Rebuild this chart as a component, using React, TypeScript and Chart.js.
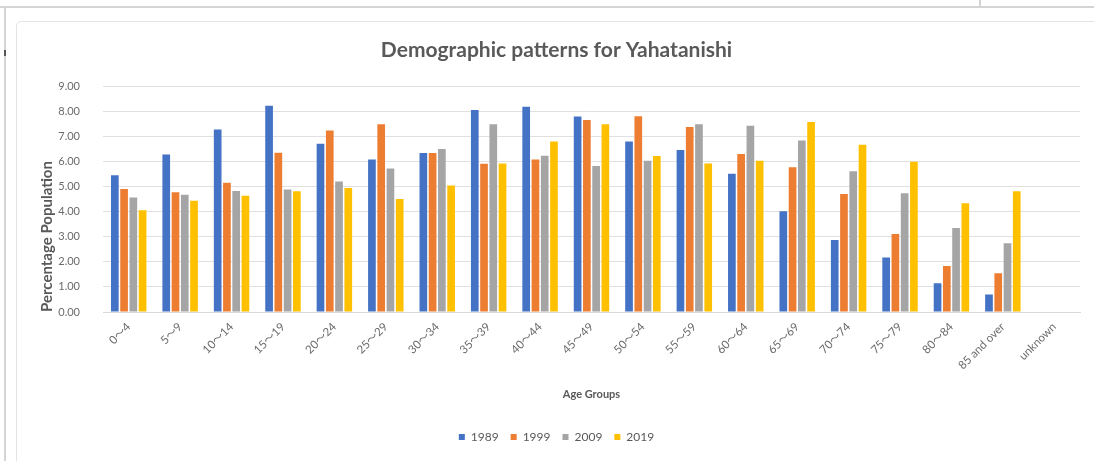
import React, { useEffect, useRef } from "react";
import { Chart, registerables } from "chart.js";

Chart.register(...registerables);

const categories = ["0～4", "5～9", "10～14", "15～19", "20～24", "25～29", "30～34", "35～39", "40～44", "45～49", "50～54", "55～59", "60～64", "65～69", "70～74", "75～79", "80～84", "85 and over", "unknown"];
const seriesNames = ["1989", "1999", "2009", "2019"];
const values1989 = [5.45, 6.28, 7.27, 8.22, 6.71, 6.08, 6.34, 8.05, 8.18, 7.79, 6.8, 6.46, 5.51, 4.02, 2.87, 2.17, 1.15, 0.7, 0];
const values1999 = [4.9, 4.77, 5.15, 6.35, 7.23, 7.48, 6.34, 5.91, 6.08, 7.65, 7.8, 7.37, 6.3, 5.77, 4.7, 3.11, 1.83, 1.54, 0];
const values2009 = [4.56, 4.67, 4.82, 4.88, 5.2, 5.72, 6.5, 7.48, 6.23, 5.82, 6.03, 7.48, 7.42, 6.84, 5.61, 4.73, 3.35, 2.74, 0];
const values2019 = [4.06, 4.43, 4.63, 4.81, 4.94, 4.5, 5.04, 5.92, 6.8, 7.48, 6.22, 5.92, 6.03, 7.57, 6.67, 5.99, 4.33, 4.81, 0];
const colors = ["#4472C4", "#ED7D31", "#A5A5A5", "#FFC000"];

const FONT = "Lato, 'Noto Sans CJK JP', 'DejaVu Sans', sans-serif";

export default function App() {
  const ref = useRef<HTMLCanvasElement | null>(null);

  useEffect(() => {
    if (!ref.current) return;
    const all = [values1989, values1999, values2009, values2019];
    const chart = new Chart(ref.current, {
      type: "bar",
      data: {
        labels: categories,
        datasets: seriesNames.map((name, i) => ({
          label: name,
          data: all[i],
          backgroundColor: colors[i],
          borderWidth: 0,
          categoryPercentage: 0.72,
          barPercentage: 0.83,
        })),
      },
      options: {
        responsive: false,
        animation: false,
        layout: { padding: { top: 0, left: 33, right: 14, bottom: 8 } },
        plugins: {
          title: {
            display: true,
            text: "Demographic patterns for Yahatanishi",
            color: "#595959",
            font: { family: FONT, size: 21, weight: "bold" },
            padding: { top: 38, bottom: 23 },
          },
          legend: {
            position: "bottom",
            labels: {
              boxWidth: 6,
              boxHeight: 6,
              padding: 12,
              color: "#595959",
              font: { family: FONT, size: 12 },
            },
          },
          tooltip: { enabled: false },
        },
        scales: {
          x: {
            grid: { display: false, drawTicks: false },
            border: { display: true, color: "#d9d9d9" },
            ticks: {
              color: "#6b6b6b",
              font: { family: FONT, size: 11.5 },
              minRotation: 45,
              maxRotation: 45,
              padding: 8,
              autoSkip: false,
            },
            title: {
              display: true,
              text: "Age Groups",
              color: "#595959",
              font: { family: FONT, size: 11, weight: "bold" },
              padding: { top: 4, bottom: 18 },
            },
            afterFit: (scale: any) => {
              scale.height = 107;
            },
          },
          y: {
            min: 0,
            max: 9,
            grid: { color: "#e0e0e0", drawTicks: false },
            border: { display: false },
            ticks: {
              stepSize: 1,
              color: "#6b6b6b",
              font: { family: FONT, size: 11 },
              padding: 23,
              callback: (v: any) => Number(v).toFixed(2),
            },
            title: {
              display: true,
              text: "Percentage Population",
              align: "start",
              color: "#595959",
              font: { family: FONT, size: 15, weight: "bold" },
              padding: { top: 5, bottom: 4 },
            },
            afterFit: (scale: any) => {
              scale.width = 70;
            },
          },
        },
      },
    });
    return () => chart.destroy();
  }, []);

  return (
    <div style={{ position: "absolute", left: 0, top: 0, width: 1094, height: 461, background: "#fff", overflow: "hidden" }}>
      <div style={{ position: "absolute", left: 0, top: 6, width: 1094, height: 2, background: "#d4d4d4" }} />
      <div style={{ position: "absolute", left: 979, top: 0, width: 2, height: 7, background: "#d4d4d4" }} />
      <div style={{ position: "absolute", left: 4, top: 7, width: 2, height: 454, background: "#d4d4d4" }} />
      <div style={{ position: "absolute", left: 4, top: 50, width: 2, height: 6, background: "#555" }} />
      <div style={{ position: "absolute", left: 16, top: 21, width: 1100, height: 460, border: "1px solid #e4e4e4", borderRadius: 5 }} />
      <canvas ref={ref} width={1094} height={461} style={{ position: "absolute", left: 0, top: 0, width: 1094, height: 461 }} />
    </div>
  );
}
